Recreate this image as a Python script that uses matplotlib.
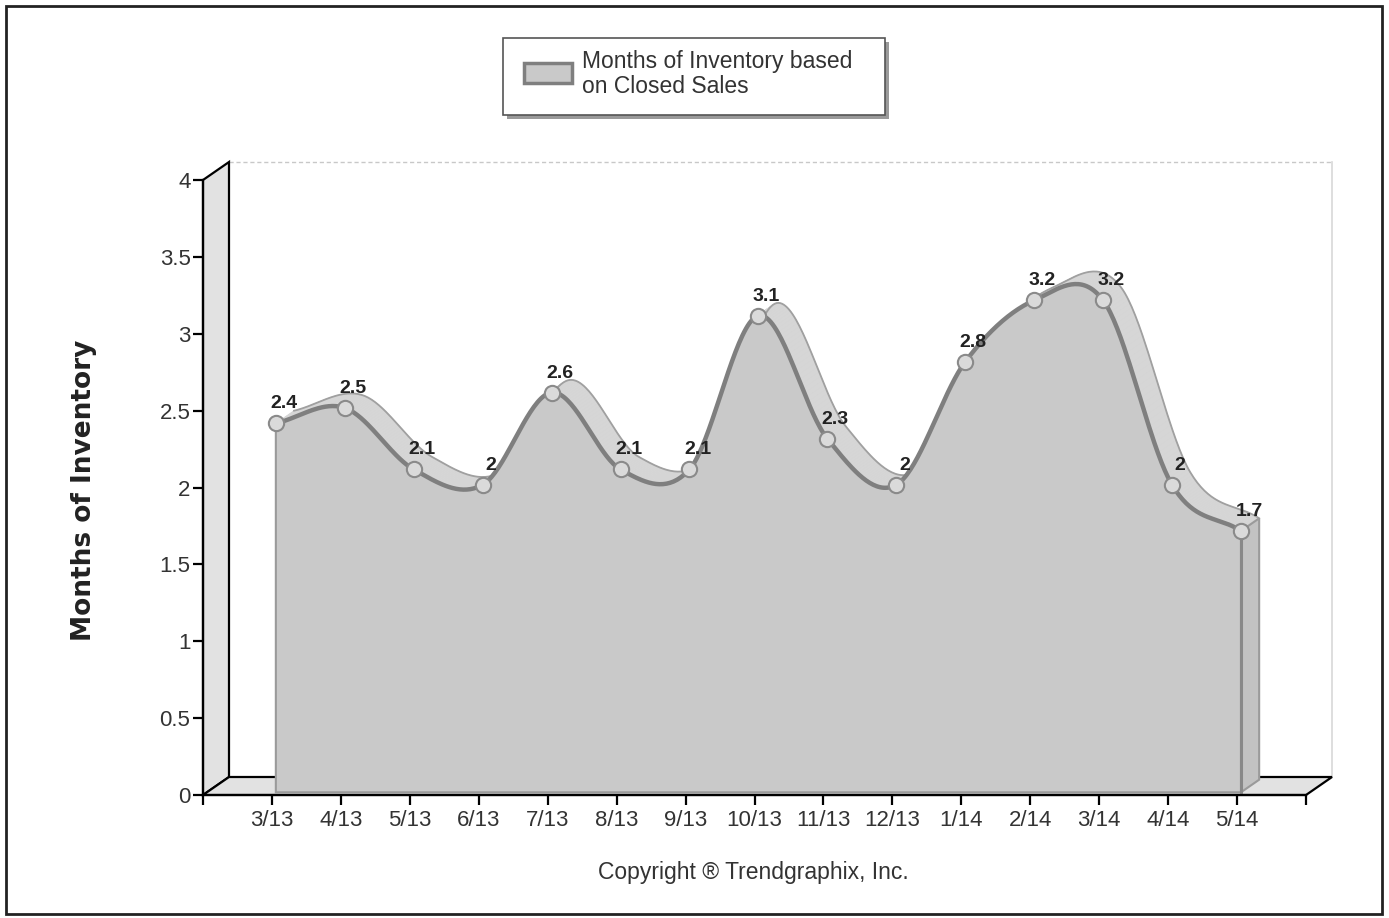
import numpy as np
import matplotlib
matplotlib.use("Agg")
import matplotlib.pyplot as plt
from matplotlib.patches import Polygon, Rectangle
from matplotlib.collections import PolyCollection

months = ["3/13", "4/13", "5/13", "6/13", "7/13", "8/13", "9/13", "10/13",
          "11/13", "12/13", "1/14", "2/14", "3/14", "4/14", "5/14"]
inventory = [2.4, 2.5, 2.1, 2.0, 2.6, 2.1, 2.1, 3.1, 2.3, 2.0, 2.8, 3.2, 3.2, 2.0, 1.7]
y_ticks = [0, 0.5, 1, 1.5, 2, 2.5, 3, 3.5, 4]
series_name = "Months of Inventory based\non Closed Sales"

W, H = 1389, 918
FILL = "#c9c9c9"
TOP = "#d6d6d6"
LINE = "#7f7f7f"
WALL = "#e2e2e2"

plt.rcParams["font.family"] = ["Liberation Sans", "DejaVu Sans"]


def fx(x):
    return x / W


def fy(y):
    return 1 - y / H


def smooth(yv, n=40):
    # cubic Hermite through the points with central-difference tangents
    p = np.asarray(yv, float)
    m = np.gradient(p)
    t = np.linspace(0, 1, n)
    h00 = 2 * t**3 - 3 * t**2 + 1
    h10 = t**3 - 2 * t**2 + t
    h01 = -2 * t**3 + 3 * t**2
    h11 = t**3 - t**2
    xs, ys = [], []
    for i in range(len(p) - 1):
        sl = slice(0, None) if i == 0 else slice(1, None)
        xs.append((i + t)[sl])
        ys.append((h00 * p[i] + h10 * m[i] + h01 * p[i + 1] + h11 * m[i + 1])[sl])
    return np.concatenate(xs), np.concatenate(ys)


fig = plt.figure(figsize=(W / 100, H / 100), dpi=100)

# plot rectangle: x -1..15, y 0..4
x0, x1, y0, y1 = 203, 1306, 795, 180
ax = fig.add_axes([fx(x0), fy(y0), fx(x1 - x0), (y0 - y1) / H])
ax.set_xlim(-1, len(months))
ax.set_ylim(0, 4)
ax.patch.set_alpha(0)

px_x = (x1 - x0) / (len(months) + 1)
px_y = (y0 - y1) / 4
ddx, ddy = 26 / px_x, 18 / px_y   # full depth of the 3D box in data units
xmax = len(months)

# back plane outline
ax.plot([-1 + ddx, xmax + ddx], [4 + ddy, 4 + ddy], color="#c8c8c8", lw=1,
        ls=(0, (3, 2)), clip_on=False, zorder=1)
ax.plot([xmax + ddx, xmax + ddx], [ddy, 4 + ddy], color="#d8d8d8", lw=1.2,
        clip_on=False, zorder=1)

# left wall and floor
wall = Polygon([(-1, 0), (-1 + ddx, ddy), (-1 + ddx, 4 + ddy), (-1, 4)],
               closed=True, fc=WALL, ec="black", lw=1.6, clip_on=False, zorder=2)
floor = Polygon([(-1, 0), (xmax, 0), (xmax + ddx, ddy), (-1 + ddx, ddy)],
                closed=True, fc=WALL, ec="black", lw=1.6, clip_on=False, zorder=2)
ax.add_patch(wall)
ax.add_patch(floor)

# area series with depth
xs, ys = smooth(inventory)
fdx, fdy = 0.15 * ddx, 0.15 * ddy
bdx, bdy = 0.85 * ddx, 0.85 * ddy
last = len(inventory) - 1

back = Polygon(np.column_stack([np.r_[0, xs, last] + bdx, np.r_[0, ys, 0] + bdy]),
               closed=True, fc=FILL, ec="none", clip_on=False, zorder=3)
ax.add_patch(back)

quads = []
for i in range(len(xs) - 1):
    quads.append([(xs[i] + fdx, ys[i] + fdy), (xs[i + 1] + fdx, ys[i + 1] + fdy),
                  (xs[i + 1] + bdx, ys[i + 1] + bdy), (xs[i] + bdx, ys[i] + bdy)])
band = PolyCollection(quads, facecolors=TOP, edgecolors=TOP, linewidths=0.6,
                      clip_on=False, zorder=4)
ax.add_collection(band)
ax.plot(xs + bdx, ys + bdy, color="#a0a0a0", lw=1.3, clip_on=False, zorder=4)

side = Polygon([(last + fdx, fdy), (last + fdx, inventory[-1] + fdy),
                (last + bdx, inventory[-1] + bdy), (last + bdx, bdy)],
               closed=True, fc="#c2c2c2", ec="#9a9a9a", lw=1.5, clip_on=False, zorder=4)
ax.add_patch(side)

front = Polygon(np.column_stack([np.r_[0, xs, last] + fdx, np.r_[0, ys, 0] + fdy]),
                closed=True, fc=FILL, ec="#9a9a9a", lw=1.5, clip_on=False, zorder=5)
ax.add_patch(front)
ax.plot(xs + fdx, ys + fdy, color=LINE, lw=3.2, clip_on=False, zorder=6,
        solid_capstyle="round")
ax.plot([last + fdx, last + fdx], [fdy, inventory[-1] + fdy], color="#888888",
        lw=2.2, clip_on=False, zorder=6)

pos = np.arange(len(inventory))
ax.plot(pos + fdx, np.array(inventory) + fdy, "o", ms=11, mfc="#dadada",
        mec="#8a8a8a", mew=1.5, clip_on=False, zorder=7)
for p, v in zip(pos, inventory):
    ax.annotate(f"{v:g}", (p + fdx, v + fdy), xytext=(8, 11),
                textcoords="offset pixels", ha="center", va="bottom",
                fontsize=14, fontweight="bold", color="#222222", zorder=8)

# axes
for s in ["top", "right"]:
    ax.spines[s].set_visible(False)
for s in ["left", "bottom"]:
    ax.spines[s].set_linewidth(1.6)
    ax.spines[s].set_zorder(9)
ax.set_yticks(y_ticks)
ax.set_yticklabels([f"{t:g}" for t in y_ticks])
ax.set_xticks(range(-1, xmax + 1))
ax.set_xticklabels([""] + months + [""])
ax.tick_params(axis="both", direction="out", length=7, width=1.6, color="black",
               labelsize=16, labelcolor="#333333")
ax.tick_params(axis="x", pad=4)
ax.tick_params(axis="y", pad=2)

fig.text(fx(84), fy(490), "Months of Inventory", rotation=90, ha="center",
         va="center", fontsize=19, fontweight="bold", family="DejaVu Sans",
         color="#222222")

# legend box
fig.patches.append(Rectangle((fx(507), fy(119)), fx(382), 77 / H, transform=fig.transFigure,
                             fc="#9a9a9a", ec="none", zorder=1))
fig.patches.append(Rectangle((fx(503), fy(115)), fx(382), 77 / H, transform=fig.transFigure,
                             fc="white", ec="#555555", lw=1.2, zorder=2))
fig.patches.append(Rectangle((fx(524), fy(83)), fx(48), 20 / H, transform=fig.transFigure,
                             fc=FILL, ec=LINE, lw=2.5, zorder=3))
fig.text(fx(582), fy(74), series_name, ha="left", va="center", fontsize=16.5,
         color="#333333", linespacing=1.1, zorder=4)

fig.text(fx(753), fy(873), "Copyright \u00ae Trendgraphix, Inc.", ha="center",
         va="center", fontsize=16.5, color="#333333")

# outer frame
fig.patches.append(Rectangle((fx(6), fy(914)), fx(1376), 908 / H, transform=fig.transFigure,
                             fill=False, ec="#222222", lw=2))

fig.savefig("out.png", dpi=100)
